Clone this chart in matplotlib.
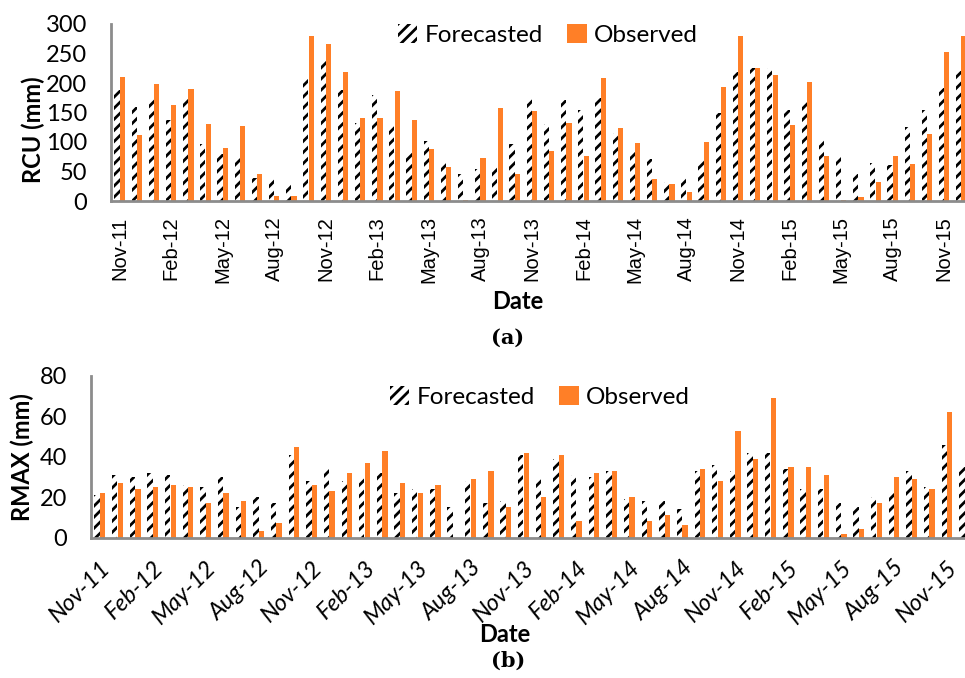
import numpy as np
import matplotlib
matplotlib.use('Agg')
import matplotlib.pyplot as plt
from matplotlib.patches import Patch

# months Nov-11 .. Dec-15
months = ['Nov-11', 'Dec-11', 'Jan-12', 'Feb-12', 'Mar-12', 'Apr-12', 'May-12', 'Jun-12',
          'Jul-12', 'Aug-12', 'Sep-12', 'Oct-12', 'Nov-12', 'Dec-12', 'Jan-13', 'Feb-13',
          'Mar-13', 'Apr-13', 'May-13', 'Jun-13', 'Jul-13', 'Aug-13', 'Sep-13', 'Oct-13',
          'Nov-13', 'Dec-13', 'Jan-14', 'Feb-14', 'Mar-14', 'Apr-14', 'May-14', 'Jun-14',
          'Jul-14', 'Aug-14', 'Sep-14', 'Oct-14', 'Nov-14', 'Dec-14', 'Jan-15', 'Feb-15',
          'Mar-15', 'Apr-15', 'May-15', 'Jun-15', 'Jul-15', 'Aug-15', 'Sep-15', 'Oct-15',
          'Nov-15', 'Dec-15']

rcu_forecast = [188, 160, 174, 138, 174, 97, 79, 76, 39, 37, 31, 207, 240, 188, 132, 180,
                130, 83, 101, 66, 45, 55, 60, 96, 174, 131, 171, 155, 174, 116, 83, 72,
                33, 40, 69, 149, 218, 226, 226, 155, 167, 105, 74, 46, 64, 61, 126, 155,
                191, 220]
rcu_observed = [210, 112, 198, 162, 189, 130, 90, 127, 46, 8, 9, 280, 266, 219, 141, 141,
                186, 138, 88, 58, 1, 73, 157, 46, 153, 84, 133, 76, 208, 123, 99, 38,
                28, 15, 100, 194, 280, 225, 214, 129, 201, 76, 2, 7, 33, 76, 62, 114,
                253, 280]

rmax_forecast = [21, 31, 30, 32, 31, 26, 25, 30, 15, 20, 17, 41, 28, 34, 28, 30,
                 32, 22, 24, 24, 15, 28, 17, 18, 41, 29, 39, 31, 30, 33, 19, 18,
                 18, 14, 33, 36, 33, 42, 42, 34, 24, 24, 17, 15, 20, 23, 33, 25,
                 46, 35]
rmax_observed = [22, 27, 24, 25, 26, 25, 17, 22, 18, 3, 7, 45, 26, 23, 32, 37,
                 43, 27, 22, 26, 0, 29, 33, 15, 42, 20, 41, 8, 32, 33, 20, 8,
                 11, 6, 34, 28, 53, 39, 69, 35, 35, 31, 1.5, 4, 17, 30, 29, 24,
                 62, 30]

ORANGE = '#FF7F27'
GRAY = '#8C8C8C'
W, H = 965, 678

plt.rcParams['hatch.linewidth'] = 2.0
plt.rcParams['hatch.color'] = 'black'


def fx(px):
    return px / W


def fy(py):
    return 1 - py / H


fig = plt.figure(figsize=(W / 100, H / 100), dpi=100)


def draw_panel(rect, fc, ob, ymax, ystep, italic_ticks):
    ax = fig.add_axes(rect)
    x = np.arange(len(months))
    ax.bar(x - 0.155, fc, width=0.3, color='white', edgecolor='black',
           linewidth=0, hatch='///', label='Forecasted')
    ax.bar(x + 0.155, ob, width=0.3, color=ORANGE, linewidth=0, label='Observed')
    ax.set_xlim(-0.5, len(months) - 0.5)
    ax.set_ylim(0, ymax)
    ax.set_yticks(np.arange(0, ymax + 1, ystep))
    for s in ['top', 'right']:
        ax.spines[s].set_visible(False)
    for s in ['left', 'bottom']:
        ax.spines[s].set_color(GRAY)
        ax.spines[s].set_linewidth(2)
    ax.tick_params(axis='both', length=0)
    ax.tick_params(axis='y', pad=17, labelsize=17)
    for t in ax.get_yticklabels():
        t.set_fontfamily('Lato')
    ticks = x[::3]
    ax.set_xticks(ticks)
    if italic_ticks:
        ax.set_xticklabels([months[i] for i in ticks], rotation=45, ha='right',
                           va='top', rotation_mode='anchor', fontsize=17,
                           fontstyle='italic', fontfamily='Lato')
        ax.tick_params(axis='x', pad=14)
    else:
        ax.set_xticklabels([months[i] for i in ticks], rotation=90, fontsize=14.5,
                           fontfamily='Liberation Sans')
        ax.tick_params(axis='x', pad=11)
    return ax


# panel (a)
ax1 = draw_panel([fx(111), fy(201), (970 - 111) / W, 177 / H],
                 rcu_forecast, rcu_observed, 300, 50, False)
# panel (b)
ax2 = draw_panel([fx(91), fy(537.5), (973.5 - 91) / W, 161.5 / H],
                 rmax_forecast, rmax_observed, 80, 20, True)

handles = [Patch(facecolor='white', edgecolor='black', linewidth=0, hatch='///', label='Forecasted'),
           Patch(facecolor=ORANGE, linewidth=0, label='Observed')]
for cy, cx in [(35, 548), (397, 540)]:
    fig.legend(handles=handles, loc='center', bbox_to_anchor=(fx(cx), fy(cy)),
               ncol=2, frameon=False, prop={'family': 'Lato', 'size': 17.5},
               handlelength=0.8, handleheight=0.8, handletextpad=0.3,
               columnspacing=1.0)

fig.text(fx(33), fy(130), 'RCU (mm)', rotation=90, ha='center', va='center',
         fontsize=17, fontweight='bold', fontfamily='Lato')
fig.text(fx(22), fy(457), 'RMAX (mm)', rotation=90, ha='center', va='center',
         fontsize=17, fontweight='bold', fontfamily='Lato')
fig.text(fx(518), fy(302), 'Date', ha='center', va='center', fontsize=17,
         fontweight='bold', fontfamily='Lato')
fig.text(fx(505), fy(634), 'Date', ha='center', va='center', fontsize=17,
         fontweight='bold', fontfamily='Lato')
fig.text(fx(508), fy(338), '(a)', ha='center', va='center', fontsize=15,
         fontweight='bold', fontfamily='DejaVu Serif')
fig.text(fx(508), fy(661), '(b)', ha='center', va='center', fontsize=15,
         fontweight='bold', fontfamily='DejaVu Serif')

fig.savefig('out.png', dpi=100)
